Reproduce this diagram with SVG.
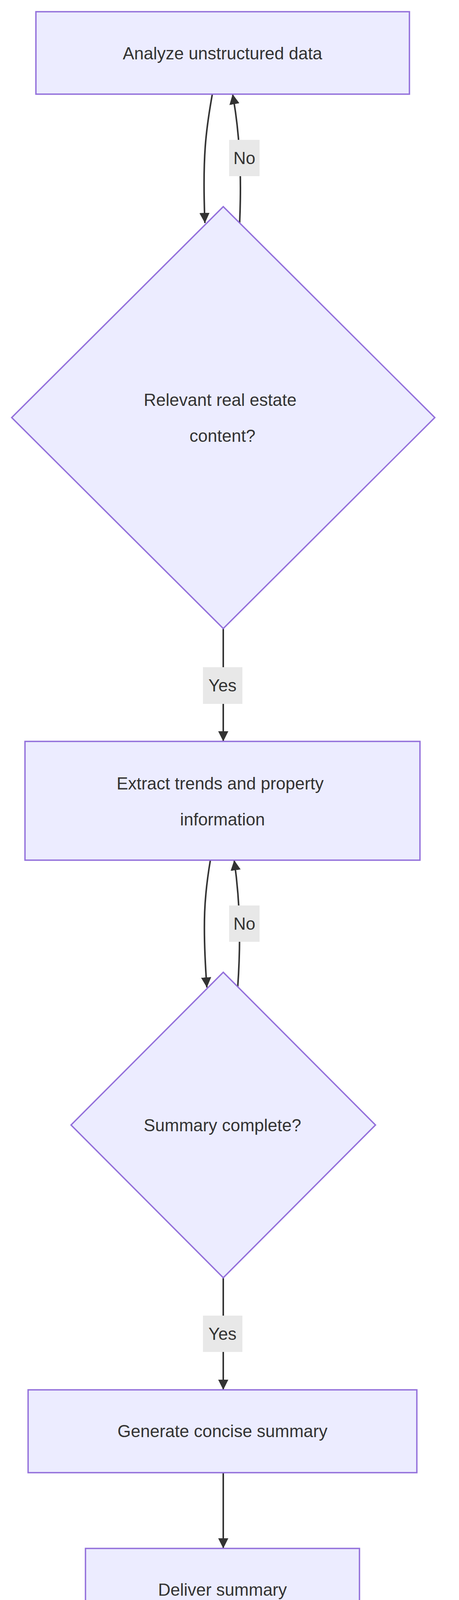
<svg xmlns="http://www.w3.org/2000/svg" width="1176" height="4324" viewBox="0 0 1176 4324">
<style>
.n{fill:#ECECFF;stroke:#9370DB;stroke-width:3.5}
.t{font-family:"Liberation Sans",Arial,sans-serif;font-size:44px;fill:#333;text-anchor:middle}
.e{fill:none;stroke:#333;stroke-width:4}
.lb{fill:#e8e8e8}
</style>
<defs><marker id="b" viewBox="0 0 10 10" refX="10" refY="5" markerWidth="26" markerHeight="26" markerUnits="userSpaceOnUse" orient="auto"><path d="M0,0L10,5L0,10z" fill="#333"/></marker></defs>
<g id="edges">
<path class="e" d="M544,241 C528,330 518,400 525,571" marker-end="url(#b)"/>
<path class="e" d="M614,571 C620,430 612,330 596,241" marker-end="url(#b)"/>
<path class="e" d="M572,1609 L572,1898" marker-end="url(#b)"/>
<path class="e" d="M539,2202 C524,2290 518,2360 530,2528" marker-end="url(#b)"/>
<path class="e" d="M609,2528 C618,2400 614,2300 600,2202" marker-end="url(#b)"/>
<path class="e" d="M572,3271 L572,3558" marker-end="url(#b)"/>
<path class="e" d="M572,3770 L572,3964" marker-end="url(#b)"/>
</g>
<g id="labels">
<rect class="lb" x="587" y="358" width="78" height="93"/><text class="t" x="626" y="420">No</text>
<rect class="lb" x="520" y="1708" width="101" height="94"/><text class="t" x="570" y="1770">Yes</text>
<rect class="lb" x="587" y="2318" width="78" height="93"/><text class="t" x="626" y="2380">No</text>
<rect class="lb" x="520" y="3368" width="101" height="93"/><text class="t" x="570" y="3430">Yes</text>
</g>
<g id="n1"><rect class="n" x="92" y="30" width="957" height="211"/><text class="t" x="570" y="152">Analyze unstructured data</text></g>
<g id="n2"><polygon class="n" points="572,529 1114,1069 572,1609 30,1069"/><text class="t" x="564" y="1039">Relevant real estate</text><text class="t" x="570" y="1131">content?</text></g>
<g id="n3"><rect class="n" x="64" y="1898" width="1012" height="304"/><text class="t" x="564" y="2021">Extract trends and property</text><text class="t" x="570" y="2113">information</text></g>
<g id="n4"><polygon class="n" points="572,2489 962,2880 572,3271 182,2880"/><text class="t" x="570" y="2896">Summary complete?</text></g>
<g id="n5"><rect class="n" x="72" y="3558" width="996" height="212"/><text class="t" x="570" y="3679">Generate concise summary</text></g>
<g id="n6"><rect class="n" x="219" y="3964" width="702" height="209"/><text class="t" x="570" y="4085">Deliver summary</text></g>
</svg>
